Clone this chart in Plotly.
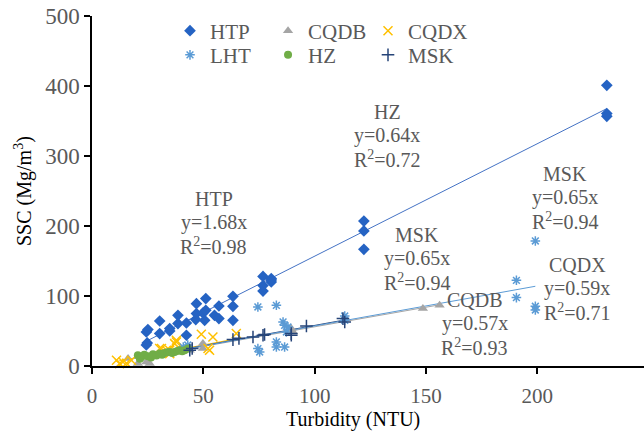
import plotly.graph_objects as go

# ---------------- data ----------------
htp_x = [24.4, 24.8, 24.4, 25.1, 30.4, 30.4, 34.9, 34.9, 38.6, 38.6, 42.4, 42.4, 46.6, 46.9, 46.9,
         49.8, 50.6, 51.1, 51.1, 55.0, 57.0, 57.0, 63.3, 63.3, 63.3, 76.8, 76.8, 76.8, 80.5, 80.5,
         80.5, 122.1, 122.1, 122.1, 231.2, 231.2, 231.2]
htp_y = [30.0, 33.0, 48.6, 52.0, 46.3, 64.3, 50.0, 53.4, 60.6, 72.4, 43.9, 61.4, 66.3, 74.9, 89.0,
         75.7, 65.3, 79.6, 96.3, 72.4, 67.7, 85.7, 65.3, 85.3, 99.6, 107.0, 115.0, 128.0, 120.0, 123.0,
         125.0, 166.7, 193.0, 207.0, 356.7, 360.6, 401.0]

lht_x = [41.0, 43.0, 74.5, 74.5, 75.3, 82.8, 82.8, 82.8, 85.8, 86.5, 86.5, 87.3, 88.0, 113.5, 113.5,
         190.6, 190.6, 199.1, 199.1, 199.1]
lht_y = [27.0, 30.0, 84.3, 24.9, 20.0, 86.7, 34.3, 27.1, 62.9, 58.1, 27.1, 48.6, 55.7, 71.4, 65.3,
         122.4, 97.7, 178.6, 85.3, 80.0]

msk_x = [43.9, 45.0, 63.3, 66.0, 72.3, 76.8, 77.5, 89.5, 89.5, 96.3, 112.7, 113.5]
msk_y = [22.4, 25.0, 37.7, 39.5, 41.4, 43.9, 44.9, 46.3, 43.9, 57.1, 67.7, 62.9]

cqdb_x = [16.2, 20.6, 24.4, 25.9, 43.1, 43.9, 49.8, 49.8, 89.5, 90.3, 148.6, 156.1]
cqdb_y = [10.6, 3.4, 5.7, 3.5, 27.1, 22.4, 32.0, 24.9, 53.4, 48.6, 82.0, 86.7]

cqdx_x = [11.0, 12.4, 13.9, 17.7, 15.5, 30.4, 31.2, 33.4, 34.9, 34.9, 37.1, 37.9, 37.9, 49.1, 52.1,
          52.8, 54.3, 64.8]
cqdx_y = [8.1, 3.4, 5.7, 8.1, 4.0, 24.9, 24.9, 22.4, 17.7, 22.4, 32.0, 36.7, 34.3, 45.3, 24.9,
          22.4, 41.4, 46.3]

hz_x = [20.6, 21.5, 22.2, 23.5, 25.1, 26.5, 27.4, 29.0, 30.4, 31.5, 32.6, 33.8, 34.9, 36.0, 37.1,
        38.3, 39.4, 40.5, 41.6, 43.1]
hz_y = [15.3, 10.5, 12.9, 16.0, 13.9, 12.0, 16.7, 15.0, 17.7, 16.0, 18.6, 19.5, 20.0, 18.5, 20.0,
        21.5, 22.4, 21.0, 22.4, 24.9]

# trendline end points
htp_fit_x, htp_fit_y = [23.7, 231.2], [34.3, 367.7]
cqdb_fit_x, cqdb_fit_y = [16.2, 156.1], [9.1, 87.4]
cqdx_fit_x, cqdx_fit_y = [11.0, 64.8], [6.5, 38.9]
msk_fit_x, msk_fit_y = [43.9, 113.5], [25.5, 65.8]
hz_fit_x, hz_fit_y = [20.6, 43.1], [12.4, 25.9]
lht_fit_x, lht_fit_y = [41.0, 199.1], [23.5, 113.9]

# equation labels
label_names = ["HZ", "HTP", "MSK", "MSK", "CQDX", "CQDB"]
label_eqs = ["y=0.64x", "y=1.68x", "y=0.65x", "y=0.65x", "y=0.59x", "y=0.57x"]
label_r2 = ["0.72", "0.98", "0.94", "0.94", "0.71", "0.93"]
label_x = [132.5, 54.6, 146.0, 212.5, 218.0, 172.0]
label_y = [329.6, 205.7, 153.4, 241.4, 111.0, 60.6]

FONT = "Liberation Serif, Tinos, Times New Roman, DejaVu Serif, serif"
GRAY = "#595959"

fig = go.Figure()

# trendlines
for fx, fy, col in [(htp_fit_x, htp_fit_y, "#4472C4"),
                    (cqdx_fit_x, cqdx_fit_y, "#FFC000"),
                    (hz_fit_x, hz_fit_y, "#70AD47"),
                    (cqdb_fit_x, cqdb_fit_y, "#A5A5A5"),
                    (msk_fit_x, msk_fit_y, "#264478"),
                    (lht_fit_x, lht_fit_y, "#5B9BD5")]:
    fig.add_trace(go.Scatter(x=fx, y=fy, mode="lines", line=dict(color=col, width=1),
                             showlegend=False, hoverinfo="skip", cliponaxis=False))

series = [
    ("HTP", htp_x, htp_y, dict(symbol="diamond", size=9, color="#2563C3")),
    ("CQDB", cqdb_x, cqdb_y, dict(symbol="triangle-up", size=9, color="#A5A5A5")),
    ("CQDX", cqdx_x, cqdx_y, dict(symbol="x-thin-open", size=9, color="#FFC000",
                                  line=dict(color="#FFC000", width=1.5))),
    ("LHT", lht_x, lht_y, dict(symbol="asterisk-open", size=8, color="#5B9BD5",
                               line=dict(color="#5B9BD5", width=1.5))),
    ("HZ", hz_x, hz_y, dict(symbol="circle", size=8, color="#70AD47")),
    ("MSK", msk_x, msk_y, dict(symbol="cross-thin-open", size=9, color="#264478",
                               line=dict(color="#264478", width=1.5))),
]
legend_ids = ["legend", "legend2", "legend3", "legend4", "legend5", "legend6"]
for (name, xs, ys, mk), lg in zip(series, legend_ids):
    fig.add_trace(go.Scatter(x=xs, y=ys, mode="markers", name=name, marker=mk,
                             legend=lg, cliponaxis=False))

annotations = []
for n, eq, r2, lx, ly in zip(label_names, label_eqs, label_r2, label_x, label_y):
    for txt, shift in [(n, 23.5), (eq, 0), ("R<sup>2</sup>=" + r2, -23.5)]:
        annotations.append(dict(x=lx, y=ly, xref="x", yref="y", text=txt, showarrow=False,
                                yshift=shift, font=dict(family=FONT, size=20, color=GRAY)))

annotations.append(dict(x=-0.125, y=0.5, xref="paper", yref="paper",
                        xanchor="center", yanchor="middle",
                        text="SSC (Mg/m<sup>3</sup>)", textangle=-90, showarrow=False,
                        font=dict(family=FONT, size=20, color="black")))
annotations.append(dict(x=0.4728, y=-0.154, xref="paper", yref="paper",
                        xanchor="center", yanchor="middle",
                        text="Turbidity (NTU)", showarrow=False,
                        font=dict(family=FONT, size=20, color="black")))

axis_common = dict(showline=True, linecolor="black", linewidth=1.5, ticks="outside",
                   ticklen=6, tickwidth=1.5, tickcolor="black", showgrid=False, zeroline=False)

legend_common = dict(orientation="h", xanchor="left", yanchor="middle",
                     font=dict(family=FONT, size=21, color=GRAY),
                     bgcolor="rgba(0,0,0,0)", itemclick=False)

legend_cols = [0.1413, 0.3189, 0.5000]   # paper x of the three legend columns
legend_rows = [0.957, 0.888]             # paper y of the two legend rows

layout_legends = {}
for i, lg in enumerate(legend_ids):
    layout_legends[lg] = dict(x=legend_cols[i % 3], y=legend_rows[i // 3], **legend_common)

fig.update_layout(
    width=644, height=435,
    margin=dict(l=92, r=0, t=16, b=69),
    paper_bgcolor="white", plot_bgcolor="white",
    xaxis=dict(range=[0, 247.9], tickvals=[0, 50, 100, 150, 200], ticklabelstandoff=4,
               tickfont=dict(family=FONT, size=21, color=GRAY), **axis_common),
    yaxis=dict(range=[0, 500], tickvals=[0, 100, 200, 300, 400, 500],
               tickfont=dict(family=FONT, size=23, color=GRAY), **axis_common),
    annotations=annotations,
    **layout_legends,
)

fig.write_html("out.html")
